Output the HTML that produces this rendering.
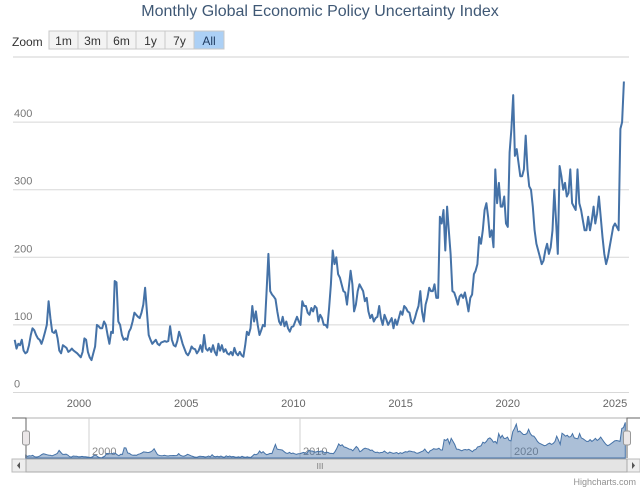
<!DOCTYPE html>
<html><head><meta charset="utf-8"><style>
body{margin:0;background:#fff;font-family:"Liberation Sans",sans-serif}
svg{display:block}
</style></head><body>
<svg id="c" width="640" height="489">
<text x="320" y="16" text-anchor="middle" font-size="16" fill="#3f5875">Monthly Global Economic Policy Uncertainty Index</text>
<text x="12" y="46" font-size="12" fill="#333">Zoom</text>
<g id="btns"></g>
<g id="grid"></g>
<g id="nav"></g>
<text x="636" y="485" text-anchor="end" font-size="9" fill="#909090">Highcharts.com</text>
</svg>
<script>
const years=[2000,2005,2010,2015,2020,2025];
const yTicks=[0,100,200,300,400];
const startYear=1997;
const values=[
78,65,72,70,78,62,58,60,70,85,95,92,
85,80,78,72,80,90,100,135,110,90,88,92,
80,62,58,70,68,66,60,62,65,62,60,58,
55,52,60,80,78,60,52,48,58,68,100,98,
95,95,105,100,85,72,90,88,165,163,105,100,
85,78,80,78,90,95,105,118,115,112,110,118,
130,155,120,85,78,72,75,78,72,70,74,75,
76,75,76,98,78,70,68,76,90,82,72,65,
58,55,60,68,65,64,58,62,70,60,85,65,
62,66,60,70,60,55,72,62,70,60,64,58,
56,60,55,66,58,55,60,55,53,70,90,85,
95,128,105,120,100,85,92,100,98,150,205,150,
145,142,138,120,105,100,112,98,105,95,90,97,
98,105,112,105,100,135,128,128,118,115,125,120,
128,125,105,115,110,100,100,96,125,160,210,190,
200,175,170,160,150,148,130,155,180,160,120,130,
150,160,155,150,135,140,120,110,115,105,110,112,
128,110,100,115,108,100,105,110,95,108,100,110,
120,115,128,125,120,118,105,102,110,120,128,150,
120,105,130,140,155,150,150,160,140,140,260,250,
270,210,275,240,205,150,148,140,130,142,145,140,
148,135,120,140,145,175,180,190,230,220,240,270,
280,260,230,240,215,330,280,310,275,275,290,250,
245,355,390,440,350,360,340,320,320,330,380,330,
305,300,275,240,220,210,200,190,195,210,220,205,
215,240,300,255,205,335,320,300,310,290,295,330,
280,275,270,330,280,270,255,240,240,260,240,255,
275,250,265,290,260,230,205,190,200,215,230,245,
250,245,240,390,400,460];
const NS='http://www.w3.org/2000/svg';
function mk(t,a,p){const e=document.createElementNS(NS,t);for(const k in a)e.setAttribute(k,a[k]);(p||document.getElementById('c')).appendChild(e);return e;}
const X=y=>79+(y-2000)*21.44;
const Y=v=>392.5-v*0.676;
const NX=y=>89+(y-2000)*21.1;
const NY=v=>462-v*0.086;
const t=i=>startYear+i/12;
// buttons
const labels=['1m','3m','6m','1y','7y','All'];
let bx=49;
labels.forEach((l,i)=>{
 const w=l==='All'?30:29;
 const r=mk('rect',{x:bx,y:31,width:w,height:18,fill:i===5?'#acd0f5':'#f3f3f3',stroke:'#c8c8c8'});
 
 
 const tx=mk('text',{x:bx+w/2,y:45,'text-anchor':'middle','font-size':12,fill:i===5?'#1e3a60':'#333'});
 tx.textContent=l;
 
 
 bx+=w;
});
mk('line',{x1:13,x2:629,y1:57,y2:57,stroke:'#d0d0d0'});
yTicks.forEach(v=>{
 const l=mk('line',{x1:13,x2:629,y1:Y(v),y2:Y(v),stroke:'#d8d8d8'});
 
 
 const tx=mk('text',{x:14,y:Y(v)-5,'font-size':11,fill:'#777'});
 tx.textContent=v;
 
 
});
years.forEach(y=>{
 const tx=mk('text',{x:X(y),y:407,'text-anchor':'middle','font-size':11,fill:'#666'});
 tx.textContent=y;
 
 
});
let d=values.map((v,i)=>(i?'L':'M')+X(t(i)).toFixed(1)+','+Y(v).toFixed(1)).join('');
const line=mk('path',{d:d,fill:'none',stroke:'#4572a7','stroke-width':2,'stroke-linejoin':'round'});


// navigator
const nl=mk('line',{x1:26,x2:627,y1:418,y2:418,stroke:'#b0b0b0'});
[2000,2010,2020].forEach(y=>{
 mk('line',{x1:NX(y),x2:NX(y),y1:418,y2:458,stroke:'#d0d0d0'});
 const tx=mk('text',{x:NX(y)+3,y:455,'font-size':11,fill:'#888'});
 tx.textContent=y;
 
 
});
let nd='M'+NX(t(0))+',458'+values.map((v,i)=>'L'+NX(t(i)).toFixed(1)+','+NY(v).toFixed(1)).join('')+'L'+NX(t(values.length-1))+',458Z';
const na=mk('path',{d:nd,fill:'rgba(69,114,167,0.45)',stroke:'#4572a7','stroke-width':1});


mk('path',{d:'M12,418H26V458M627,458V418H640',fill:'none',stroke:'#666'});
[26,627].forEach((x,i)=>{
 const h=mk('rect',{x:x-3.5,y:431,width:7,height:14,rx:2,fill:'#ebe7e8',stroke:'#999'});
 
 
});
const sb=mk('rect',{x:12,y:459,width:628,height:13,fill:'#eee',stroke:'#bbb'});


const th=mk('rect',{x:26,y:459,width:601,height:13,fill:'#e4e4e4',stroke:'#aaa'});


mk('text',{x:320,y:469,'text-anchor':'middle','font-size':8,fill:'#777'}).textContent='III';
mk('path',{d:'M20,462L17,465.5L20,469Z',fill:'#555'});
mk('path',{d:'M632,462L635,465.5L632,469Z',fill:'#555'});
</script>
</body></html>
